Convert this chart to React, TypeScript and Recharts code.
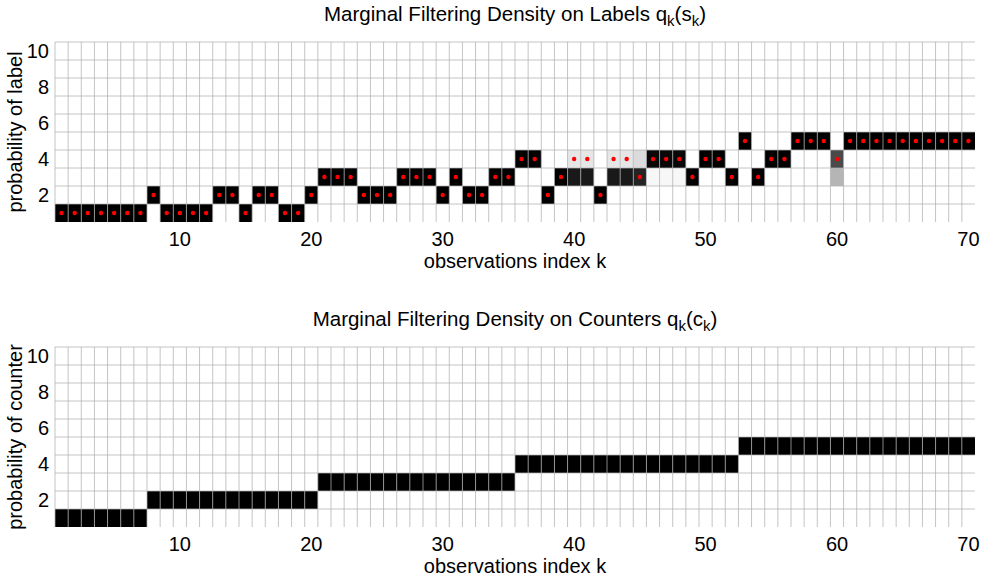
import React from "react";
import { ScatterChart, Scatter, XAxis, YAxis, CartesianGrid, Label } from "recharts";

const K_TICKS = [10, 20, 30, 40, 50, 60, 70];
const S_TICKS = [2, 4, 6, 8, 10];

// true label of each observation k = 1..70 (red dots)
const TRUE_LABEL = [
  1, 1, 1, 1, 1, 1, 1, 2, 1, 1, 1, 1, 2, 2, 1, 2, 2, 1, 1, 2,
  3, 3, 3, 2, 2, 2, 3, 3, 3, 2, 3, 2, 2, 3, 3, 4, 4, 2, 3, 4,
  4, 2, 4, 4, 3, 4, 4, 4, 3, 4, 4, 3, 5, 3, 4, 4, 5, 5, 5, 4,
  5, 5, 5, 5, 5, 5, 5, 5, 5, 5,
];

// label holding all the filtering mass (p = 1), unless the column is split below
const LABEL_PEAK = [
  1, 1, 1, 1, 1, 1, 1, 2, 1, 1, 1, 1, 2, 2, 1, 2, 2, 1, 1, 2,
  3, 3, 3, 2, 2, 2, 3, 3, 3, 2, 3, 2, 2, 3, 3, 4, 4, 2, 3, 3,
  3, 2, 3, 3, 3, 4, 4, 4, 3, 4, 4, 3, 5, 3, 4, 4, 5, 5, 5, 4,
  5, 5, 5, 5, 5, 5, 5, 5, 5, 5,
];

// columns where the mass is shared between two labels
const LABEL_SPLIT = [
  { k: 40, s: 3, p: 0.9 }, { k: 40, s: 4, p: 0.1 },
  { k: 41, s: 3, p: 0.9 }, { k: 41, s: 4, p: 0.1 },
  { k: 43, s: 3, p: 0.9 }, { k: 43, s: 4, p: 0.1 },
  { k: 44, s: 3, p: 0.9 }, { k: 44, s: 4, p: 0.1 },
  { k: 45, s: 3, p: 0.86 }, { k: 45, s: 4, p: 0.14 },
  { k: 46, s: 4, p: 0.97 }, { k: 46, s: 3, p: 0.03 },
  { k: 47, s: 4, p: 0.97 }, { k: 47, s: 3, p: 0.03 },
  { k: 48, s: 4, p: 0.97 }, { k: 48, s: 3, p: 0.03 },
  { k: 60, s: 4, p: 0.71 }, { k: 60, s: 3, p: 0.29 },
];

const COUNTER_PEAK = [
  1, 1, 1, 1, 1, 1, 1, 2, 2, 2, 2, 2, 2, 2, 2, 2, 2, 2, 2, 2,
  3, 3, 3, 3, 3, 3, 3, 3, 3, 3, 3, 3, 3, 3, 3, 4, 4, 4, 4, 4,
  4, 4, 4, 4, 4, 4, 4, 4, 4, 4, 4, 4, 5, 5, 5, 5, 5, 5, 5, 5,
  5, 5, 5, 5, 5, 5, 5, 5, 5, 5,
];

type Cell = { k: number; s: number; p: number };

function buildCells(peak: number[], split: Cell[]): Cell[] {
  return peak.flatMap((s, i) => {
    const k = i + 1;
    const parts = split.filter((d) => d.k === k);
    return parts.length ? parts : [{ k, s, p: 1 }];
  });
}

const labelCells = buildCells(LABEL_PEAK, LABEL_SPLIT);
const labelDots = TRUE_LABEL.map((s, i) => ({ k: i + 1, s }));
const counterCells = buildCells(COUNTER_PEAK, []);

const W = 988;
const H = 273;
const M = { top: 42, right: 13, bottom: 0, left: 0 };
const Y_W = 55;
const X_H = 51;
const PLOT_W = W - M.left - M.right - Y_W;
const PLOT_H = H - M.top - M.bottom - X_H;
const N_K = TRUE_LABEL.length;
const N_S = 10;
const CELL_W = PLOT_W / N_K;
const CELL_H = PLOT_H / N_S;

const K_EDGES = Array.from({ length: N_K }, (_, i) => i + 0.5);
const S_EDGES = Array.from({ length: N_S }, (_, i) => i + 1.5);

const FONT = "'Liberation Sans', Arial, sans-serif";

const CellShape = (props: any) => {
  const { cx, cy, payload } = props;
  if (cx == null || cy == null) return null;
  const v = Math.round(255 * (1 - payload.p));
  return (
    <rect x={cx - CELL_W / 2} y={cy - CELL_H / 2} width={CELL_W} height={CELL_H} fill={`rgb(${v},${v},${v})`} />
  );
};

const DotShape = (props: any) => {
  const { cx, cy } = props;
  if (cx == null || cy == null) return null;
  return <circle cx={cx} cy={cy} r={2.2} fill="#ff0000" />;
};

const vGen = ({ xAxis, offset }: any) =>
  K_EDGES.map((v) =>
    typeof xAxis?.scale === "function" ? xAxis.scale(v) : offset.left + ((v - 0.5) / N_K) * offset.width
  );

const hGen = ({ yAxis, offset }: any) =>
  S_EDGES.map((v) =>
    typeof yAxis?.scale === "function" ? yAxis.scale(v) : offset.top + (1 - (v - 0.5) / N_S) * offset.height
  );

function Title({ main, sub }: { main: string; sub: string }) {
  const k = <span style={{ fontSize: 15, position: "relative", top: 5 }}>k</span>;
  return (
    <div
      style={{
        position: "absolute",
        left: M.left + Y_W,
        width: PLOT_W,
        top: 4,
        textAlign: "center",
        fontSize: 20.5,
        lineHeight: "20px",
        whiteSpace: "nowrap",
      }}
    >
      {main} q{k}({sub}
      {k})
    </div>
  );
}

function Panel({ top, title, sub, yLabel, cells, dots }: any) {
  const xLabel = (p: any) => {
    const vb = p.viewBox || {};
    return (
      <text x={vb.x + vb.width / 2} y={vb.y + 46} textAnchor="middle" fontSize={20} fontFamily={FONT} fill="#000">
        observations index k
      </text>
    );
  };
  const yLab = (p: any) => {
    const vb = p.viewBox || {};
    const x = vb.x + 21.5;
    const y = vb.y + vb.height / 2;
    return (
      <text x={x} y={y} transform={`rotate(-90, ${x}, ${y})`} textAnchor="middle" fontSize={20} fontFamily={FONT} fill="#000">
        {yLabel}
      </text>
    );
  };
  return (
    <div style={{ position: "absolute", left: 0, top, width: W, height: H }}>
      <Title main={title} sub={sub} />
      <ScatterChart width={W} height={H} margin={M}>
        <XAxis
          type="number"
          dataKey="k"
          domain={[0.5, 70.5]}
          ticks={K_TICKS}
          height={X_H}
          axisLine={false}
          tickLine={false}
          tickSize={0}
          tickMargin={10}
          tick={{ fill: "#000", fontSize: 20, fontFamily: FONT }}
        >
          <Label content={xLabel} />
        </XAxis>
        <YAxis
          type="number"
          dataKey="s"
          domain={[0.5, 10.5]}
          ticks={S_TICKS}
          width={Y_W}
          axisLine={false}
          tickLine={false}
          tickSize={0}
          tickMargin={6}
          tick={{ fill: "#000", fontSize: 20, fontFamily: FONT }}
        >
          <Label content={yLab} />
        </YAxis>
        <Scatter data={cells} shape={CellShape} isAnimationActive={false} zIndex={300} />
        <CartesianGrid
          stroke="#b0b0b0"
          strokeOpacity={0.75}
          verticalCoordinatesGenerator={vGen}
          horizontalCoordinatesGenerator={hGen}
          zIndex={650}
        />
        {dots && <Scatter data={dots} shape={DotShape} isAnimationActive={false} zIndex={700} />}
      </ScatterChart>
    </div>
  );
}

export default function App() {
  return (
    <div style={{ position: "absolute", left: 0, top: 0, width: W, height: 578, background: "#fff", fontFamily: FONT }}>
      <Panel top={0} title="Marginal Filtering Density on Labels" sub="s" yLabel="probability of label" cells={labelCells} dots={labelDots} />
      <Panel top={305} title="Marginal Filtering Density on Counters" sub="c" yLabel="probability of counter" cells={counterCells} />
    </div>
  );
}
